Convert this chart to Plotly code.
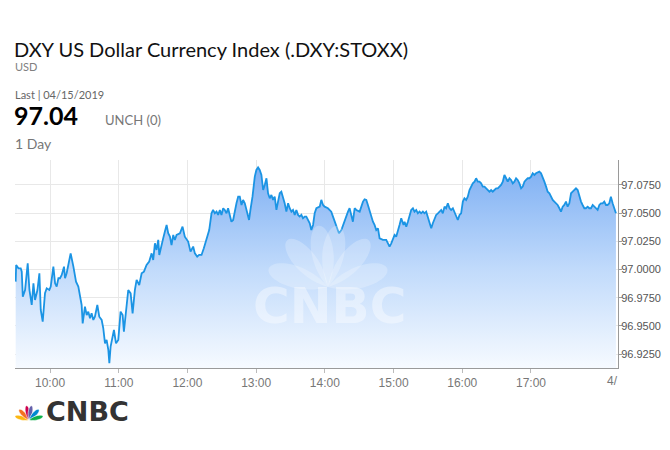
import math
import pandas as pd
import plotly.graph_objects as go

# ---------------- data (minutes after 09:30 open, index level) ----------------
session_open = "2019-04-15 09:30"
minutes_after_open = [
    0, 0.4, 2.4, 4.4, 5.3, 6.2, 8.2, 10.5, 12.0, 14.0, 15.5, 16.9, 19.0, 20.7, 21.9, 23.6,
    25.6, 27.1, 29.4, 30.6, 32.9, 34.4, 35.8, 37.3, 38.7, 40.2, 42.2, 43.1, 44.5, 46.0,
    48.0, 50.4, 52.7, 54.7, 56.2, 57.6, 58.5, 60.5, 62.0, 63.4, 64.9, 66.3, 67.8, 69.2,
    71.3, 73.0, 75.1, 76.5, 78.0, 79.4, 80.9, 81.8, 82.9, 84.7, 85.8, 87.6, 89.6, 91.6,
    93.4, 94.5, 96.3, 98.3, 100.4, 102.1, 104.1, 105.6, 107.9, 110.0, 112.0, 114.3, 116.6,
    118.7, 120.1, 121.6, 123.0, 124.5, 125.4, 127.4, 128.8, 130.3, 131.8, 133.2, 134.7,
    136.1, 137.6, 139.0, 140.5, 143.4, 145.7, 147.7, 150.6, 152.7, 155.0, 156.5, 158.5,
    160.2, 162.3, 164.3, 166.6, 169.0, 171.0, 172.4, 173.9, 175.4, 176.8, 178.3, 179.7,
    181.2, 182.6, 184.1, 185.5, 187.0, 188.4, 189.9, 191.3, 192.8, 194.3, 195.7, 197.2,
    198.6, 200.1, 201.5, 203.0, 203.8, 205.0, 206.8, 208.8, 210.2, 211.7, 213.1, 214.6,
    216.1, 217.5, 219.0, 220.4, 221.9, 223.3, 224.8, 226.2, 227.7, 229.1, 230.6, 232.0,
    233.5, 234.9, 236.4, 237.9, 239.3, 240.8, 242.2, 243.7, 245.1, 246.6, 248.0, 249.5,
    250.9, 252.4, 253.8, 255.3, 256.8, 258.2, 259.7, 261.1, 262.6, 265.5, 266.9, 268.4,
    269.8, 272.7, 274.2, 275.6, 277.1, 278.6, 280.0, 282.3, 284.4, 287.3, 290.2, 291.6,
    293.1, 294.5, 296.0, 297.5, 300.4, 303.3, 304.7, 306.2, 307.6, 309.1, 310.5, 312.0,
    313.4, 314.9, 316.4, 317.8, 320.7, 323.6, 325.1, 326.5, 328.0, 329.4, 330.9, 332.3,
    333.8, 335.2, 336.7, 337.6, 338.7, 339.6, 341.1, 342.5, 344.0, 345.4, 346.9, 348.3,
    349.8, 351.2, 352.7, 354.1, 355.6, 357.0, 358.5, 360.0, 361.4, 362.9, 364.3, 365.8,
    367.2, 368.7, 370.1, 371.6, 373.0, 374.5, 375.9, 377.4, 378.9, 380.3, 381.8, 383.2,
    384.7, 386.1, 387.6, 389.0, 390.5, 391.9, 393.4, 394.8, 396.3, 397.7, 399.2, 400.7,
    402.1, 403.6, 405.0, 406.5, 407.9, 409.4, 410.8, 412.3, 413.7, 415.2, 416.6, 418.1,
    419.6, 421.0, 422.5, 423.9, 425.4, 426.8, 428.3, 429.7, 431.2, 432.6, 434.1, 435.5,
    437.0, 438.4, 439.9, 441.4, 442.8, 444.3, 445.7, 447.2, 448.6, 450.1, 451.5, 453.0,
    454.4, 455.9, 457.3, 458.8, 460.2, 461.7, 463.2, 464.6, 466.1, 467.5, 469.0, 470.4,
    471.9, 473.3, 474.8, 476.2, 477.7, 479.1, 480.6, 482.0, 483.5, 485.0, 486.4, 487.9,
    489.3, 490.8, 492.2, 493.7, 495.1, 496.6, 498.0, 499.5, 500.9, 502.4, 503.9, 505.3,
    506.8, 508.2, 509.7, 511.1, 512.6, 514.0, 515.5, 516.9, 518.4, 519.8, 521.3, 522.7,
    524.2,
]
price = [
    96.9892, 97.0040, 97.0010, 97.0010, 96.9981, 96.9759, 96.9818, 97.0055, 96.9818, 96.9685,
    96.9877, 96.9729, 96.9818, 96.9966, 96.9641, 96.9537, 96.9789, 96.9833, 96.9818, 96.9848,
    97.0025, 96.9877, 96.9848, 96.9922, 96.9922, 96.9951, 97.0025, 96.9922, 96.9966, 97.0040,
    97.0143, 97.0025, 96.9892, 96.9848, 96.9759, 96.9685, 96.9522, 96.9670, 96.9596, 96.9626,
    96.9567, 96.9611, 96.9552, 96.9581, 96.9685, 96.9581, 96.9552, 96.9478, 96.9345, 96.9375,
    96.9286, 96.9168, 96.9316, 96.9404, 96.9463, 96.9345, 96.9375, 96.9626, 96.9596, 96.9448,
    96.9641, 96.9818, 96.9788, 96.9611, 96.9818, 96.9907, 96.9862, 96.9966, 96.9981, 97.0040,
    97.0070, 97.0143, 97.0084, 97.0232, 97.0173, 97.0262, 97.0129, 97.0203, 97.0276, 97.0336,
    97.0395, 97.0321, 97.0291, 97.0217, 97.0306, 97.0262, 97.0306, 97.0321, 97.0380, 97.0291,
    97.0247, 97.0158, 97.0203, 97.0143, 97.0114, 97.0129, 97.0129, 97.0188, 97.0276, 97.0350,
    97.0498, 97.0528, 97.0498, 97.0513, 97.0484, 97.0528, 97.0484, 97.0543, 97.0528, 97.0498,
    97.0543, 97.0484, 97.0424, 97.0439, 97.0528, 97.0587, 97.0646, 97.0646, 97.0572, 97.0617,
    97.0587, 97.0528, 97.0469, 97.0439, 97.0528, 97.0646, 97.0824, 97.0883, 97.0906, 97.0883,
    97.0838, 97.0705, 97.0750, 97.0809, 97.0676, 97.0631, 97.0661, 97.0617, 97.0646, 97.0528,
    97.0602, 97.0676, 97.0690, 97.0646, 97.0587, 97.0513, 97.0587, 97.0543, 97.0513, 97.0528,
    97.0484, 97.0528, 97.0484, 97.0469, 97.0484, 97.0454, 97.0469, 97.0469, 97.0439, 97.0410,
    97.0350, 97.0395, 97.0498, 97.0543, 97.0557, 97.0617, 97.0572, 97.0557, 97.0543, 97.0528,
    97.0513, 97.0469, 97.0424, 97.0395, 97.0321, 97.0350, 97.0439, 97.0513, 97.0543, 97.0484,
    97.0424, 97.0543, 97.0528, 97.0513, 97.0602, 97.0622, 97.0617, 97.0572, 97.0513, 97.0484,
    97.0424, 97.0395, 97.0350, 97.0365, 97.0276, 97.0262, 97.0262, 97.0232, 97.0203, 97.0232,
    97.0276, 97.0306, 97.0291, 97.0336, 97.0395, 97.0454, 97.0424, 97.0395, 97.0424, 97.0380,
    97.0424, 97.0484, 97.0528, 97.0543, 97.0513, 97.0528, 97.0498, 97.0513, 97.0498, 97.0513,
    97.0498, 97.0513, 97.0469, 97.0424, 97.0365, 97.0410, 97.0454, 97.0484, 97.0498, 97.0513,
    97.0528, 97.0498, 97.0557, 97.0543, 97.0587, 97.0543, 97.0528, 97.0543, 97.0513, 97.0469,
    97.0439, 97.0484, 97.0498, 97.0602, 97.0631, 97.0617, 97.0646, 97.0705, 97.0735, 97.0764,
    97.0779, 97.0809, 97.0779, 97.0779, 97.0764, 97.0735, 97.0735, 97.0720, 97.0705, 97.0690,
    97.0705, 97.0690, 97.0705, 97.0720, 97.0720, 97.0735, 97.0750, 97.0779, 97.0838, 97.0809,
    97.0779, 97.0809, 97.0794, 97.0764, 97.0779, 97.0809, 97.0794, 97.0764, 97.0720, 97.0735,
    97.0779, 97.0794, 97.0809, 97.0809, 97.0823, 97.0853, 97.0838, 97.0853, 97.0859, 97.0868,
    97.0853, 97.0823, 97.0779, 97.0735, 97.0690, 97.0676, 97.0646, 97.0617, 97.0602, 97.0587,
    97.0572, 97.0543, 97.0513, 97.0557, 97.0572, 97.0602, 97.0557, 97.0587, 97.0676, 97.0690,
    97.0705, 97.0720, 97.0705, 97.0646, 97.0602, 97.0572, 97.0543, 97.0543, 97.0557, 97.0543,
    97.0543, 97.0572, 97.0557, 97.0543, 97.0528, 97.0572, 97.0587, 97.0587, 97.0602, 97.0572,
    97.0572, 97.0587, 97.0646, 97.0587, 97.0543, 97.0498,
]

y_ticks = [96.925, 96.95, 96.975, 97.0, 97.025, 97.05, 97.075]
y_tick_labels = ["96.9250", "96.9500", "96.9750", "97.0000", "97.0250", "97.0500", "97.0750"]
x_tick_times = ["10:00", "11:00", "12:00", "13:00", "14:00", "15:00", "16:00", "17:00"]

title_text = "DXY US Dollar Currency Index (.DXY:STOXX)"
currency_text = "USD"
last_label = "Last | 04/15/2019"
last_value = "97.04"
change_text = "UNCH (0)"
period_text = "1 Day"

# ---------------- build ----------------
base = pd.Timestamp(session_open)
times = [base + pd.Timedelta(minutes=m) for m in minutes_after_open]
tickvals = [pd.Timestamp("2019-04-15 " + t) for t in x_tick_times]
x_range = [base - pd.Timedelta(minutes=0.6), base + pd.Timedelta(minutes=526)]
y_range = [96.9126, 97.0971]

# page has an 8px body margin; figure sized to fit the 670x450 window
W, H = 662, 442
L_M, R_M, T_M, B_M = 7, 52, 152, 82
PW, PH = W - L_M - R_M, H - T_M - B_M
PLOT_LEFT, PLOT_BOTTOM = 15, 368  # reference-page pixels of plot corner


def pp(x, y):
    """reference-page pixel -> paper coordinates"""
    return (x - PLOT_LEFT) / PW, (PLOT_BOTTOM - y) / PH


fig = go.Figure()
fig.add_trace(go.Scatter(
    x=times, y=price, mode="lines",
    line=dict(color="#1b94e4", width=1.8),
    fill="tozeroy",
    fillgradient=dict(type="vertical", start=y_range[0], stop=97.09,
                      colorscale=[[0, "#f6faff"], [0.5, "#c0dafb"], [1, "#7fb0f3"]]),
    hoverinfo="skip", showlegend=False,
))


def feather_path(bx, by, ang, length, width):
    dx, dy = math.cos(math.radians(ang)), -math.sin(math.radians(ang))
    qx, qy = -dy, dx
    tx, ty = bx + dx * length, by + dy * length
    pts = [
        (bx, by),
        (bx + dx * 0.45 * length + qx * width, by + dy * 0.45 * length + qy * width),
        (tx + qx * 0.6 * width, ty + qy * 0.6 * width),
        (tx, ty),
        (tx - qx * 0.6 * width, ty - qy * 0.6 * width),
        (bx + dx * 0.45 * length - qx * width, by + dy * 0.45 * length - qy * width),
        (bx, by),
    ]
    p = [pp(*a) for a in pts]
    f = lambda a: f"{a[0]:.5f},{a[1]:.5f}"
    return (f"M {f(p[0])} C {f(p[1])} {f(p[2])} {f(p[3])} "
            f"C {f(p[4])} {f(p[5])} {f(p[6])} Z")


shapes = []
# watermark peacock (faint white, above the line)
for ang in [163, 131, 99, 81, 49, 17]:
    shapes.append(dict(type="path", xref="paper", yref="paper",
                       path=feather_path(328, 287, ang, 62, 18),
                       fillcolor="rgba(255,255,255,0.24)", line=dict(width=0), layer="above"))
# footer logo peacock
feather_colors = ["#fcb711", "#f37021", "#cc004c", "#6460aa", "#0089d0", "#0db14b"]
for ang, col in zip([165, 133, 100, 80, 47, 15], feather_colors):
    shapes.append(dict(type="path", xref="paper", yref="paper",
                       path=feather_path(29, 420, ang, 14.5, 3.6),
                       fillcolor=col, line=dict(width=0.6, color="white")))

ann = []


def text(x, y, s, size, color, family="Lato, Liberation Sans, sans-serif", weight="normal",
         xanchor="left"):
    px_, py_ = pp(x, y)
    ann.append(dict(x=px_, y=py_, xref="paper", yref="paper", text=s, showarrow=False,
                    xanchor=xanchor, yanchor="middle", borderpad=0,
                    font=dict(size=size, color=color, family=family, weight=weight)))


text(13, 49, title_text, 20, "#111111")
text(14, 66, currency_text, 11, "#808080")
text(14, 94, last_label, 11, "#666666")
text(13, 115, last_value, 25, "#000000", weight="bold")
text(104, 120, change_text, 13, "#777777")
text(14, 143, period_text, 14, "#777777")
text(612, 381, "4/", 12, "#777777", family="Liberation Sans Narrow, Liberation Sans, sans-serif",
     xanchor="center")
# watermark wordmark
text(329, 306, "CNBC", 50, "rgba(255,255,255,0.40)", family="DejaVu Sans, sans-serif",
     weight="bold", xanchor="center")
# footer wordmark
text(45, 411, "CNBC", 27, "#333333", family="DejaVu Sans, sans-serif", weight="bold")

fig.update_layout(
    width=W, height=H, autosize=False,
    margin=dict(l=L_M, r=R_M, t=T_M, b=B_M, autoexpand=False),
    paper_bgcolor="white", plot_bgcolor="white",
    shapes=shapes, annotations=ann,
    xaxis=dict(
        type="date", range=x_range, tickvals=tickvals, tickformat="%H:%M",
        showgrid=True, gridcolor="#e8e8e8", gridwidth=1,
        showline=True, linecolor="#9a9a9a", linewidth=1,
        ticks="outside", ticklen=4, tickcolor="#bbbbbb",
        tickfont=dict(family="Liberation Sans Narrow, Liberation Sans, sans-serif",
                      size=12, color="#777777"),
        zeroline=False, fixedrange=True, automargin=False,
    ),
    yaxis=dict(
        side="right", range=y_range, tickvals=y_ticks, ticktext=y_tick_labels,
        showgrid=True, gridcolor="#e8e8e8", gridwidth=1,
        showline=True, linecolor="#9a9a9a", linewidth=1,
        ticks="outside", ticklen=3, tickcolor="#9a9a9a", ticklabelstandoff=-3,
        tickfont=dict(family="Liberation Sans, Arial, sans-serif", size=11, color="#555555"),
        zeroline=False, fixedrange=True, automargin=False,
    ),
)

fig.write_html("out.html")
